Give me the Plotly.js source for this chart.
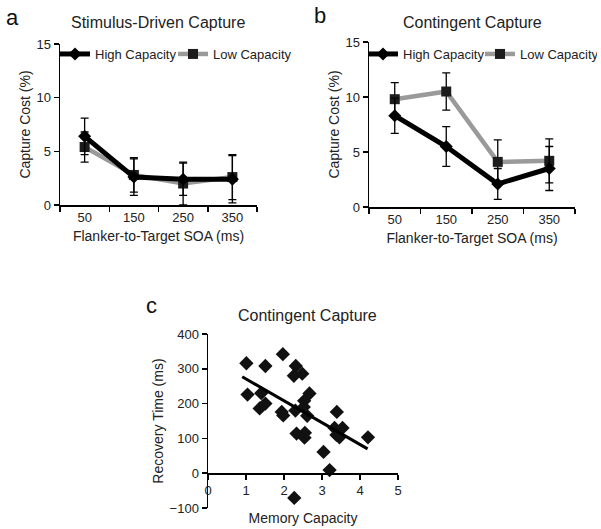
<!DOCTYPE html>
<html><head><meta charset="utf-8">
<script src="https://cdn.plot.ly/plotly-3.0.1.min.js"></script>
<style>html,body{margin:0;padding:0;background:#fff}#chart{width:601px;height:529px}</style>
</head><body><div id="chart"></div>
<script>
// ---- data ----
const soaLabels = ['50', '150', '250', '350'];
// panel a: stimulus-driven capture (%)
const aHigh = [6.4, 2.6, 2.4, 2.4];
const aHighErr = [1.7, 1.7, 1.5, 2.2];
const aLow = [5.4, 2.8, 2.0, 2.6];
const aLowErr = [1.4, 1.6, 2.0, 2.1];
// panel b: contingent capture (%)
const bHigh = [8.3, 5.5, 2.1, 3.5];
const bHighErr = [1.6, 1.8, 1.4, 2.0];
const bLow = [9.8, 10.5, 4.1, 4.2];
const bLowErr = [1.5, 1.7, 2.0, 2.0];
// panel c: memory capacity vs recovery time (ms)
const capX = [1.01, 1.04, 1.51, 1.40, 1.36, 1.51, 1.97, 1.94, 1.98, 2.31, 2.26, 2.48, 2.30, 2.33, 2.53, 2.52, 2.67, 2.61, 2.55, 2.54, 3.04, 3.20, 2.27, 3.39, 3.33, 3.54, 3.38, 3.46, 4.21];
const recY = [316, 226, 308, 230, 186, 200, 342, 176, 166, 308, 280, 286, 180, 114, 208, 190, 229, 165, 116, 102, 61, 9, -71, 176, 130, 130, 110, 103, 103];
const fitX = [0.9, 4.2];
const fitY = [277, 70];

const FONT = 'Liberation Sans, Arial, sans-serif';
const TXT = '#222';
const W = 601, H = 529;
const fx = p => p / W, fy = p => 1 - p / H;

const highStyle = {mode: 'lines+markers', line: {color: '#000', width: 5}, marker: {symbol: 'diamond', size: 10, color: '#000'}};
const lowStyle = {mode: 'lines+markers', line: {color: '#9a9a9a', width: 4.5}, marker: {symbol: 'square', size: 10, color: '#1c1c1c'}};
const err = arr => ({type: 'data', array: arr, visible: true, color: '#000', thickness: 1.3, width: 4});

const traces = [
  Object.assign({x: soaLabels, y: aLow, name: 'Low Capacity', error_y: err(aLowErr), xaxis: 'x', yaxis: 'y', legend: 'legend'}, lowStyle),
  Object.assign({x: soaLabels, y: aHigh, name: 'High Capacity', error_y: err(aHighErr), xaxis: 'x', yaxis: 'y', legend: 'legend'}, highStyle),
  Object.assign({x: soaLabels, y: bLow, name: 'Low Capacity', error_y: err(bLowErr), xaxis: 'x2', yaxis: 'y2', legend: 'legend2'}, lowStyle),
  Object.assign({x: soaLabels, y: bHigh, name: 'High Capacity', error_y: err(bHighErr), xaxis: 'x2', yaxis: 'y2', legend: 'legend2'}, highStyle),
  {x: capX, y: recY, mode: 'markers', marker: {symbol: 'diamond', size: 11, color: '#111'}, xaxis: 'x3', yaxis: 'y3', showlegend: false},
  {x: fitX, y: fitY, mode: 'lines', line: {color: '#000', width: 3}, xaxis: 'x3', yaxis: 'y3', showlegend: false}
];

const tickFont = {family: FONT, size: 13, color: TXT};
const titleFont = {family: FONT, size: 14, color: TXT};
const baseAx = {showline: true, linecolor: '#000', linewidth: 1.5, ticks: 'outside', ticklen: 5, tickwidth: 1.5, tickcolor: '#000', showgrid: false, zeroline: false, tickfont: tickFont, automargin: false, fixedrange: true};

function catX(dom, anchor) {
  return Object.assign({}, baseAx, {domain: dom, anchor: anchor, type: 'category', range: [-0.5, 3.5], tickson: 'boundaries',
    title: {text: 'Flanker-to-Target SOA (ms)', font: titleFont, standoff: 7}});
}
function costY(dom, anchor) {
  return Object.assign({}, baseAx, {domain: dom, anchor: anchor, range: [0, 15], tickvals: [0, 5, 10, 15],
    title: {text: 'Capture Cost (%)', font: titleFont, standoff: 2}});
}

const layout = {
  width: W, height: H,
  margin: {l: 0, r: 0, t: 0, b: 0, autoexpand: false},
  paper_bgcolor: '#fff', plot_bgcolor: 'rgba(0,0,0,0)',
  font: {family: FONT, color: TXT},
  xaxis: catX([fx(60), fx(257)], 'y'),
  yaxis: costY([fy(205), fy(44)], 'x'),
  xaxis2: catX([fx(369), fx(575)], 'y2'),
  yaxis2: costY([fy(207), fy(42)], 'x2'),
  xaxis3: Object.assign({}, baseAx, {domain: [fx(208), fx(398)], anchor: 'free', position: fy(473), range: [0, 5], tickvals: [0, 1, 2, 3, 4, 5],
    title: {text: 'Memory Capacity', font: titleFont, standoff: 16}}),
  yaxis3: Object.assign({}, baseAx, {domain: [fy(508), fy(334)], anchor: 'x3', range: [-100, 400], tickvals: [-100, 0, 100, 200, 300, 400],
    title: {text: 'Recovery Time (ms)', font: titleFont, standoff: 2}}),
  legend: {orientation: 'h', x: fx(55), y: fy(54), xanchor: 'left', yanchor: 'middle', entrywidth: 73, entrywidthmode: 'pixels', itemwidth: 30,
    font: {family: FONT, size: 13, color: TXT}, bgcolor: 'rgba(0,0,0,0)', traceorder: 'reversed', tracegroupgap: 0},
  legend2: {orientation: 'h', x: fx(363), y: fy(54), xanchor: 'left', yanchor: 'middle', entrywidth: 72, entrywidthmode: 'pixels', itemwidth: 30,
    font: {family: FONT, size: 13, color: TXT}, bgcolor: 'rgba(0,0,0,0)', traceorder: 'reversed', tracegroupgap: 0},
  annotations: [
    {text: 'a', x: fx(4), y: fy(18), xref: 'paper', yref: 'paper', xanchor: 'left', yanchor: 'middle', showarrow: false, font: {family: FONT, size: 22, color: '#111'}},
    {text: 'b', x: fx(312), y: fy(16), xref: 'paper', yref: 'paper', xanchor: 'left', yanchor: 'middle', showarrow: false, font: {family: FONT, size: 22, color: '#111'}},
    {text: 'c', x: fx(144), y: fy(305), xref: 'paper', yref: 'paper', xanchor: 'left', yanchor: 'middle', showarrow: false, font: {family: FONT, size: 22, color: '#111'}},
    {text: 'Stimulus-Driven Capture', x: fx(158), y: fy(23), xref: 'paper', yref: 'paper', xanchor: 'center', yanchor: 'middle', showarrow: false, font: {family: FONT, size: 16, color: TXT}},
    {text: 'Contingent Capture', x: fx(472), y: fy(23), xref: 'paper', yref: 'paper', xanchor: 'center', yanchor: 'middle', showarrow: false, font: {family: FONT, size: 16, color: TXT}},
    {text: 'Contingent Capture', x: fx(307), y: fy(315), xref: 'paper', yref: 'paper', xanchor: 'center', yanchor: 'middle', showarrow: false, font: {family: FONT, size: 16, color: TXT}}
  ]
};

Plotly.newPlot('chart', traces, layout, {displayModeBar: false, staticPlot: true});
</script></body></html>
